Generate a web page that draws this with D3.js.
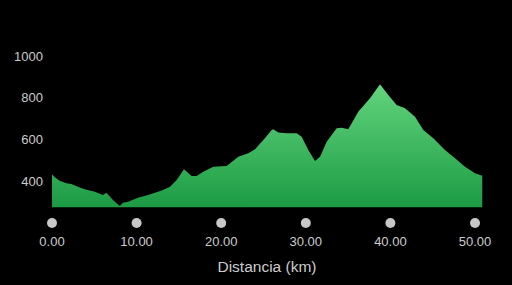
<!DOCTYPE html>
<html>
<head>
<meta charset="utf-8">
<script src="https://cdn.jsdelivr.net/npm/d3@7"></script>
<style>
  html, body { margin: 0; padding: 0; background: #000; }
  svg { display: block; }
</style>
</head>
<body>
<svg id="chart" width="512" height="285"></svg>
<script>
// distance (km) and elevation (m)
const distKm = [0, 0.32, 0.91, 1.69, 2.28, 3.07, 3.87, 5.05, 6.03, 6.42, 7.21, 8.0, 8.39, 8.98,
  10.17, 11.35, 12.53, 13.12, 13.95, 14.74, 15.6, 16.51, 17.1, 17.88, 19.07, 20.65, 22.02,
  23.2, 24.0, 24.98, 25.97, 26.16, 26.75, 27.74, 28.92, 29.51, 30.3, 31.09, 31.68, 32.47,
  33.65, 34.24, 35.02, 36.2, 37.59, 38.77, 39.75, 40.74, 41.73, 42.91, 43.89, 45.07, 46.45,
  47.64, 48.82, 50.0, 50.86];
const elevM = [432, 418, 401, 389, 386, 373, 360, 349, 333, 344, 309, 280, 296, 301,
  320, 333, 349, 357, 373, 405, 456, 424, 424, 445, 469, 472, 517,
  533, 552, 597, 645, 648, 633, 629, 629, 612, 549, 496, 517, 588,
  653, 656, 648, 732, 797, 864, 813, 765, 749, 708, 645, 605, 549,
  509, 469, 437, 425];
const xTicks = [0, 10, 20, 30, 40, 50];
const yTicks = [400, 600, 800, 1000];
const baseElev = 274;

const font = "'Liberation Sans', Arial, sans-serif";
const svg = d3.select("#chart");
const x = d3.scaleLinear().domain([0, 50]).range([52, 475]);
const y = d3.scaleLinear().domain([400, 1000]).range([181, 56]);

const data = distKm.map((d, i) => ({ d, e: elevM[i] }));

const grad = svg.append("defs").append("linearGradient")
  .attr("id", "fillGrad")
  .attr("gradientUnits", "userSpaceOnUse")
  .attr("x1", 0).attr("x2", 0)
  .attr("y1", y(d3.max(elevM))).attr("y2", y(baseElev));
grad.append("stop").attr("offset", "0%").attr("stop-color", "#62d47d");
grad.append("stop").attr("offset", "100%").attr("stop-color", "#1c9b44");

const area = d3.area()
  .x(d => x(d.d))
  .y0(y(baseElev))
  .y1(d => y(d.e));

svg.append("path")
  .datum(data)
  .attr("d", area)
  .attr("fill", "url(#fillGrad)");

// y labels
svg.append("g")
  .selectAll("text")
  .data(yTicks)
  .enter()
  .append("text")
  .attr("x", 43)
  .attr("y", d => y(d))
  .attr("dy", "0.35em")
  .attr("text-anchor", "end")
  .attr("fill", "#cccccc")
  .attr("font-family", font)
  .attr("font-size", 13)
  .text(d => d);

// x tick dots and labels
const xg = svg.append("g");
xg.selectAll("circle")
  .data(xTicks)
  .enter()
  .append("circle")
  .attr("cx", d => x(d))
  .attr("cy", 223)
  .attr("r", 5)
  .attr("fill", "#c8c8c8");
xg.selectAll("text")
  .data(xTicks)
  .enter()
  .append("text")
  .attr("x", d => x(d))
  .attr("y", 241)
  .attr("dy", "0.35em")
  .attr("text-anchor", "middle")
  .attr("fill", "#cccccc")
  .attr("font-family", font)
  .attr("font-size", 13)
  .text(d => d.toFixed(2));

svg.append("text")
  .attr("x", 267)
  .attr("y", 267)
  .attr("dy", "0.35em")
  .attr("text-anchor", "middle")
  .attr("fill", "#cccccc")
  .attr("font-family", font)
  .attr("font-size", 15.5)
  .text("Distancia (km)");
</script>
</body>
</html>
